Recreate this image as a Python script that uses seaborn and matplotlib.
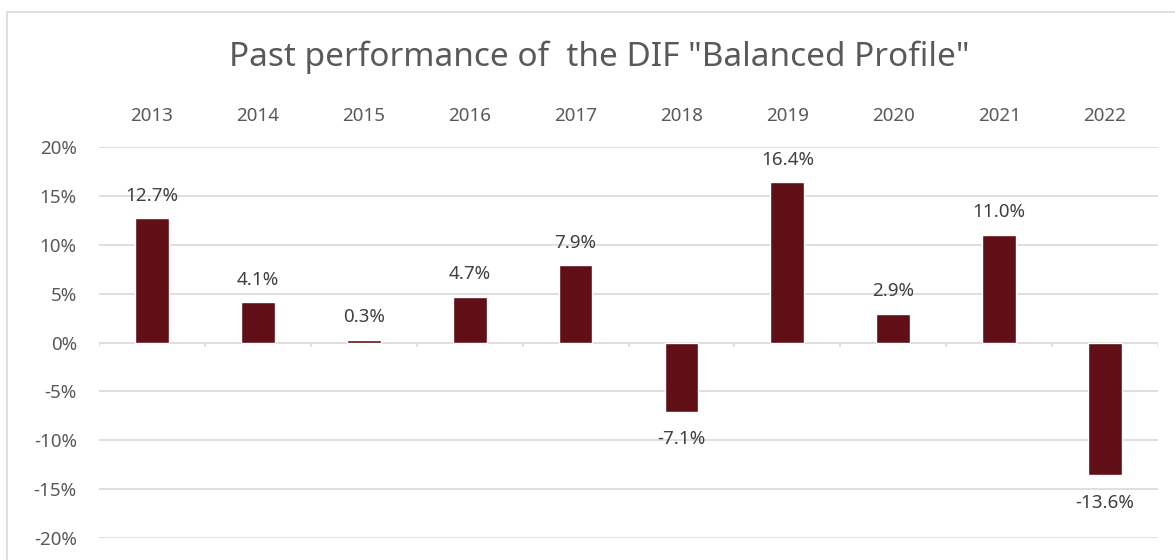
import numpy as np
import pandas as pd
import matplotlib
matplotlib.use('Agg')
import matplotlib.pyplot as plt
from matplotlib.patches import Rectangle
import seaborn as sns

years = ['2013', '2014', '2015', '2016', '2017', '2018', '2019', '2020', '2021', '2022']
returns = [12.7, 4.1, 0.3, 4.7, 7.9, -7.1, 16.4, 2.9, 11.0, -13.6]
yticks = [-20, -15, -10, -5, 0, 5, 10, 15, 20]

df = pd.DataFrame({'year': years, 'ret': returns})

sns.set_style('white')
plt.rcParams['font.family'] = ['Noto Sans', 'DejaVu Sans']
txt = '#595959'
bar_color = '#600F17'

fig = plt.figure(figsize=(11.75, 5.6), dpi=100)
ax = fig.add_axes([99 / 1175, 1 - 538 / 560, (1158 - 99) / 1175, (538 - 147) / 560])

sns.barplot(data=df, x='year', y='ret', color=bar_color, width=0.32,
            saturation=1, ax=ax)

ax.set_ylim(-20, 20)
ax.set_xlim(-0.5, len(years) - 0.5)
ax.set_yticks(yticks)
ax.set_yticklabels([f'{t}%' for t in yticks])
ax.set_axisbelow(True)
ax.yaxis.grid(True, color='#d9d9d9', linewidth=1.2)
ax.xaxis.grid(False)
for s in ax.spines.values():
    s.set_visible(False)

ax.xaxis.tick_top()
ax.set_xlabel('')
ax.set_ylabel('')
ax.tick_params(axis='x', length=0, pad=16, labelsize=13.5, labelcolor=txt)
ax.tick_params(axis='y', length=0, pad=16, labelsize=13.5, labelcolor=txt)

# little category ticks hanging off the zero line
ax.vlines(np.arange(len(years) + 1) - 0.5, -0.5, 0, color='#d9d9d9', linewidth=1.2)

for i, v in enumerate(returns):
    off = 1.4 if v >= 0 else -1.9
    ax.text(i, v + off, f'{v:.1f}%', ha='center', va='bottom' if v >= 0 else 'top',
            fontsize=13.5, color='#404040')

fig.text(599 / 1175, 1 - 57 / 560, 'Past performance of  the DIF "Balanced Profile"',
         ha='center', va='center', fontsize=24, color=txt)

fig.patches.append(Rectangle((7 / 1175, -0.1), 1.2, 1 - 12 / 560 + 0.1,
                             transform=fig.transFigure, fill=False,
                             edgecolor='#d9d9d9', linewidth=1.2, zorder=0))

fig.savefig('out.png', dpi=100)
